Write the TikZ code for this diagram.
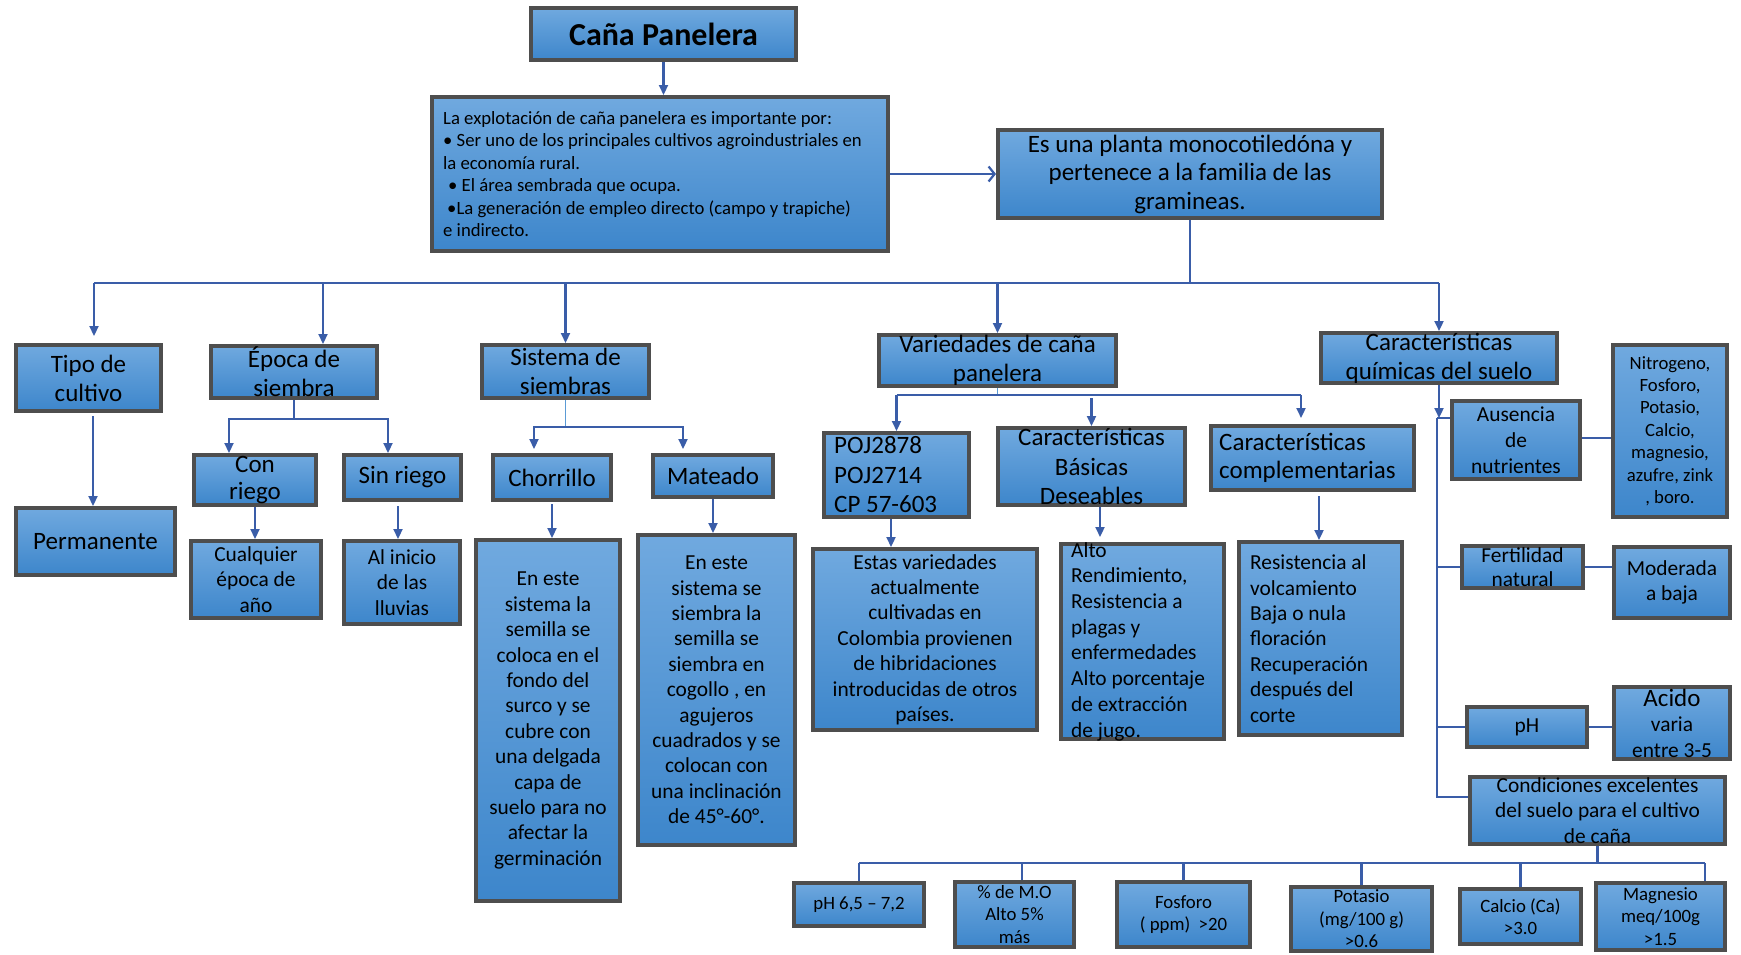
\documentclass[tikz,border=0pt]{standalone}
\usepackage{fontspec}
\setmainfont{Carlito}
\usetikzlibrary{arrows.meta}

\definecolor{boxtop}{HTML}{70A9DF}
\definecolor{boxbot}{HTML}{3D86CB}
\definecolor{edge}{HTML}{4E4E4E}
\definecolor{conn}{HTML}{3A5DA8}
\definecolor{connlight}{HTML}{5B9BD5}

\tikzset{
  box/.style={draw=edge, line width=4pt, top color=boxtop, bottom color=boxbot, inner sep=0pt},
  txt/.style={inner sep=0pt, align=center, text=black},
  t30/.style={font=\fontsize{32}{36}\bfseries\selectfont},
  t25/.style={font=\fontsize{25}{29}\selectfont},
  t21/.style={font=\fontsize{21.4}{25.4}\selectfont},
  t19/.style={font=\fontsize{18.7}{22.4}\selectfont},
  ln/.style={draw=conn, line width=2.2pt},
  lnlight/.style={draw=connlight, line width=1.6pt},
  ar/.style={ln, -{Triangle[length=10pt,width=9pt]}},
  arbarb/.style={ln, -{Straight Barb[length=6pt,width=15pt]}},
}

% box with centred text: [text options]{name}{x1}{y1}{x2}{y2}{text}
\newcommand{\bx}[7][]{%
  \node[box, minimum width={#5-#3-4}, minimum height={#6-#4-4}] (#2) at ({(#3+#5)/2},{(#4+#6)/2}) {};
  \node[txt, #1] (#2-t) at (#2.center) {#7};
}
% box with left aligned text: [text options]{name}{x1}{y1}{x2}{y2}{left pad}{text}
\newcommand{\bxl}[8][]{%
  \node[box, minimum width={#5-#3-4}, minimum height={#6-#4-4}] (#2) at ({(#3+#5)/2},{(#4+#6)/2}) {};
  \node[txt, align=left, anchor=west, #1] (#2-t) at ([xshift={(#7-2)*1pt}]#2.west) {#8};
}

\begin{document}
\begin{tikzpicture}[x=1pt,y=-1pt]
\useasboundingbox[fill=white] (0,0) rectangle (1741,954);

% ---- top ----
\bx[t30]{title}{529}{6}{798}{62}{Caña Panelera}
\bxl[t19]{imp}{430}{95}{890}{253}{15}{La explotación de caña panelera es importante por:\\
• Ser uno de los principales cultivos agroindustriales en\\
la economía rural.\\
\hspace*{5pt}• El área sembrada que ocupa.\\
\hspace*{4pt}•La generación de empleo directo (campo y trapiche)\\
e indirecto.}
\bx[t25, font=\fontsize{25}{28.5}\selectfont]{es}{996}{128}{1384}{220}{Es una planta monocotiledóna y\\pertenece a la familia de las\\gramineas.}

% ---- second level ----
\bx[t25]{tipo}{14}{343}{163}{413}{Tipo de\\cultivo}
\bx[t25]{epoca}{209}{344}{379}{400}{Época de\\siembra}
\bx[t25]{sist}{480}{343}{651}{400}{Sistema de\\siembras}
\bx[t25]{var}{877}{333}{1118}{388}{Variedades de caña\\panelera}
\bx[t25]{cq}{1319}{331}{1559}{385}{Características\\químicas del suelo}

% ---- tipo de cultivo / época ----
\bx[t25]{perm}{14}{506}{177}{577}{Permanente}
\bx[t25, font=\fontsize{25}{27}\selectfont]{conr}{192}{453}{318}{507}{Con\\riego}
\bx[t25]{sinr}{342}{453}{463}{502}{Sin riego}
\bx[t21]{cualq}{189}{539}{323}{620}{Cualquier\\época de\\año}
\bx[t21]{alini}{342}{539}{462}{626}{Al inicio\\de las\\lluvias}

% ---- sistema de siembras ----
\bx[t25]{chor}{491}{453}{613}{502}{Chorrillo}
\bx[t25]{mate}{651}{453}{775}{499}{Mateado}
\bx[t21]{chort}{474}{538}{622}{903}{En este\\sistema la\\semilla se\\coloca en el\\fondo del\\surco y se\\cubre con\\una delgada\\capa de\\suelo para no\\afectar la\\germinación}
\bx[t21]{matet}{636}{533}{797}{847}{En este\\sistema se\\siembra la\\semilla se\\siembra en\\cogollo , en\\agujeros\\cuadrados y se\\colocan con\\una inclinación\\de 45°-60°.}

% ---- variedades ----
\bxl[t25, font=\fontsize{25}{29.5}\selectfont]{poj}{822}{431}{971}{519}{14}{POJ2878\\POJ2714\\CP 57-603}
\bx[t25, font=\fontsize{25}{29.5}\selectfont]{basic}{996}{426}{1187}{507}{Características\\Básicas\\Deseables}
\bxl[t25, font=\fontsize{25}{28}\selectfont]{compl}{1209}{424}{1416}{492}{12}{Características\\complementarias}
\bx[t21]{estas}{811}{547}{1039}{732}{Estas variedades\\actualmente\\cultivadas en\\Colombia provienen\\de hibridaciones\\introducidas de otros\\países.}
\bxl[t21, font=\fontsize{21.4}{25.7}\selectfont]{alto}{1059}{542}{1226}{741}{14}{Alto\\Rendimiento,\\Resistencia a\\plagas y\\enfermedades\\Alto porcentaje\\de extracción\\de jugo.}
\bxl[t21]{resis}{1237}{540}{1404}{737}{15}{Resistencia al\\volcamiento\\Baja o nula\\floración\\Recuperación\\después del\\corte}

% ---- características químicas ----
\bx[t21, font=\fontsize{21.4}{26}\selectfont]{aus}{1450}{399}{1582}{481}{Ausencia\\de\\nutrientes}
\bx[t19]{nitro}{1611}{343}{1729}{519}{Nitrogeno,\\Fosforo,\\Potasio,\\Calcio,\\magnesio,\\azufre, zink\\, boro.}
\bx[t21, font=\fontsize{21.4}{24}\selectfont]{fert}{1460}{544}{1585}{590}{Fertilidad\\natural}
\bx[t21]{moder}{1612}{545}{1732}{620}{Moderada\\a baja}
\bx[t21]{ph}{1465}{705}{1589}{749}{pH}
\bx[t21]{acido}{1612}{685}{1732}{761}{{\fontsize{25}{29}\selectfont Acido}\\varia\\entre 3-5}
\bx[t21]{cond}{1468}{775}{1727}{846}{Condiciones excelentes\\del suelo para el cultivo\\de caña}

% ---- soil condition values ----
\tikzset{t19b/.style={font=\fontsize{18.8}{22.5}\selectfont}}
\bx[t19b]{b1}{792}{881}{926}{928}{pH 6,5 – 7,2}
\bx[t19b]{b2}{953}{880}{1076}{949}{\% de M.O\\Alto 5\%\\más}
\bx[t19b]{b3}{1115}{880}{1252}{949}{Fosforo\\( ppm)\ \ >20}
\bx[t19b]{b4}{1289}{885}{1434}{953}{Potasio\\(mg/100 g)\\>0.6}
\bx[t19b]{b5}{1458}{887}{1583}{946}{Calcio (Ca)\\>3.0}
\bx[t19b]{b6}{1594}{881}{1727}{952}{Magnesio\\meq/100g\\>1.5}

% ---- connectors ----
\draw[ar] (title.south) -- (title.south |- imp.north);
\draw[arbarb] (imp.east) -- (imp.east -| es.west);

\coordinate (busy) at (0,283);
\draw[ln] (es.south) -- (es.south |- busy);
\draw[ln] ([xshift=5.5pt]tipo.north |- busy) -- (cq.north |- busy);
\draw[ar, shorten >=7pt] ([xshift=5.5pt]tipo.north |- busy) -- ([xshift=5.5pt]tipo.north);
\draw[ar] ([xshift=29pt]epoca.north |- busy) -- ([xshift=29pt]epoca.north);
\draw[ar] (sist.north |- busy) -- (sist.north);
\draw[ar] (var.north |- busy) -- (var.north);
\draw[ar] (cq.north |- busy) -- (cq.north);

\draw[ar, shorten <=3pt] ([xshift=4.5pt]tipo.south) -- ([xshift=4.5pt]tipo.south |- perm.north);

\coordinate (epb) at (0,419);
\draw[ln] (epoca.south) -- (epoca.south |- epb);
\draw[ar] (epoca.south |- epb) -| ([xshift=-26pt]conr.north);
\draw[ar] (epoca.south |- epb) -| ([xshift=-14.5pt]sinr.north);
\draw[ar] (conr.south) -- (conr.south |- cualq.north);
\draw[ar, shorten <=4pt] ([xshift=-4.5pt]sinr.south) -- ([xshift=-4.5pt]sinr.south |- alini.north);

\coordinate (sb) at (0,427);
\draw[lnlight] (sist.south) -- (sist.south |- sb);
\draw[ar, shorten >=4pt] (sist.south |- sb) -| ([xshift=-18pt]chor.north);
\draw[ar, shorten >=4pt] (sist.south |- sb) -| ([xshift=-30pt]mate.north);
\draw[ar, shorten <=2pt] (chor.south) -- (chor.south |- chort.north);
\draw[ar] (mate.south) -- (mate.south |- matet.north);

\coordinate (vb) at (0,395);
\draw[lnlight] (var.south) -- (var.south |- vb);
\draw[ln] (poj.north |- vb) -- ([xshift=-11.5pt]compl.north |- vb);
\draw[ar] (poj.north |- vb) -- (poj.north);
\draw[ar, shorten <=3pt] (basic.north |- vb) -- (basic.north);
\draw[ar, shorten >=6pt] ([xshift=-11.5pt]compl.north |- vb) -- ([xshift=-11.5pt]compl.north);
\draw[ar] ([xshift=-5.5pt]poj.south) -- ([xshift=-5.5pt]poj.south |- estas.north);
\draw[ar, shorten >=5pt] ([xshift=8.5pt]basic.south) -- ([xshift=8.5pt]basic.south |- alto.north);
\draw[ar, shorten <=4pt] ([xshift=6.5pt]compl.south) -- ([xshift=6.5pt]compl.south |- resis.north);

\coordinate (cqj) at (1437,418);
\draw[ar] (cq.south) -- (cq.south |- cqj);
\draw[ln] (cqj) -- (cqj -| aus.west);
\draw[ln] (cqj) |- ([yshift=13.5pt]cond.west);
\draw[ln] (cqj |- fert.west) -- (fert.west);
\draw[ln] (cqj |- ph.west) -- (ph.west);
\draw[ln] ([yshift=2pt]aus.east) -- ([yshift=2pt]aus.east -| nitro.west);
\draw[ln] (fert.east) -- (fert.east -| moder.west);
\draw[ln] (ph.east) -- (ph.east -| acido.west);

\coordinate (cb) at (0,863);
\draw[ln] (cond.south) -- (cond.south |- cb);
\draw[ln] (b1.north |- cb) -- ([xshift=44.5pt]b6.north |- cb);
\draw[ln] (b1.north |- cb) -- (b1.north);
\draw[ln] ([xshift=7.5pt]b2.north |- cb) -- ([xshift=7.5pt]b2.north);
\draw[ln] (b3.north |- cb) -- (b3.north);
\draw[ln] (b4.north |- cb) -- (b4.north);
\draw[ln] (b5.north |- cb) -- (b5.north);
\draw[ln] ([xshift=44.5pt]b6.north |- cb) -- ([xshift=44.5pt]b6.north);
\end{tikzpicture}
\end{document}
